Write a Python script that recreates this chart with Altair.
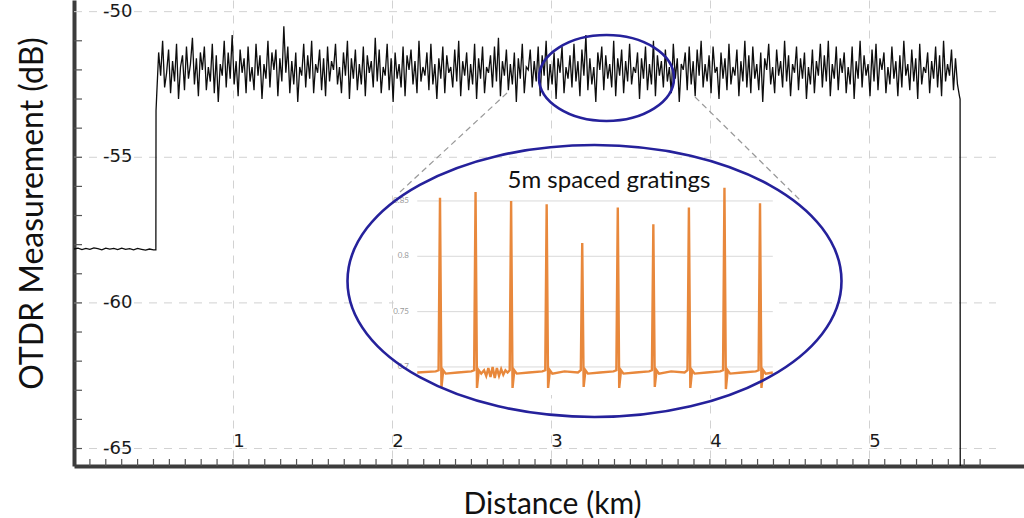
import altair as alt
import pandas as pd

# ---------------- main OTDR trace ----------------
flat_km = [0.0, 0.025, 0.05, 0.075, 0.1, 0.125, 0.15, 0.175, 0.2, 0.225, 0.25,
           0.275, 0.3, 0.325, 0.35, 0.375, 0.4, 0.425, 0.45, 0.475, 0.5]
flat_db = [-58.15, -58.12, -58.17, -58.13, -58.16, -58.11, -58.14, -58.18, -58.12, -58.15, -58.13,
           -58.17, -58.12, -58.16, -58.14, -58.18, -58.13, -58.16, -58.19, -58.15, -58.18]
rise_km = [0.515, 0.516]
rise_db = [-58.18, -53.4]
noise_start_km = 0.52
noise_step_km = 0.0125
noise_db = [
    -52.9, -51.4, -52.2, -51.0, -52.6, -52.1, -51.3, -52.8, -51.7, -52.4, -51.1, -53.0, -51.9, -51.5, -52.7,
    -51.2, -52.3, -51.8, -50.9, -52.5, -51.6, -52.9, -51.4, -52.0, -51.2, -52.7, -51.9, -52.4, -51.1, -52.8,
    -51.5, -53.1, -51.8, -52.2, -51.0, -52.6, -51.4, -52.3, -50.8, -52.5, -51.7, -52.9, -51.3, -52.1, -51.6,
    -52.8, -51.2, -52.4, -51.9, -52.7, -51.1, -52.2, -51.5, -53.0, -51.8, -52.3, -51.0, -52.6, -51.4, -52.0,
    -51.3, -52.9, -51.6, -52.4, -50.5, -52.1, -51.2, -52.8, -51.7, -52.5, -51.4, -53.1, -51.9, -52.2, -51.1,
    -52.6, -51.5, -52.3, -51.0, -52.8, -51.8, -52.1, -51.3, -52.7, -51.6, -52.9, -51.2, -52.4, -51.7, -52.0,
    -51.1, -52.5, -51.9, -52.8, -51.4, -52.2, -51.0, -53.0, -51.6, -52.3, -51.3, -52.7, -51.8, -52.5, -51.2,
    -52.9, -51.5, -52.1, -51.7, -52.6, -50.9, -52.4, -51.3, -52.8, -51.9, -52.2, -51.1, -52.7, -51.6, -53.1,
    -51.4, -52.3, -51.8, -52.6, -51.2, -52.9, -51.5, -52.0, -51.3, -52.5, -51.7, -52.8, -51.0, -52.4, -51.9,
    -52.2, -51.4, -52.7, -51.1, -52.5, -51.8, -53.0, -51.6, -52.3, -51.2, -52.8, -51.5, -52.1, -51.9, -52.6,
    -51.3, -52.4, -51.0, -52.9, -51.7, -52.2, -51.4, -52.7, -51.8, -52.5, -51.1, -53.0, -51.6, -52.3, -51.2,
    -52.8, -51.9, -52.1, -51.5, -52.6, -51.2, -52.4, -50.9, -52.9, -51.7, -52.2, -51.3, -52.7, -51.8, -52.5,
    -51.4, -53.1, -51.6, -52.3, -51.1, -52.8, -51.9, -52.0, -51.3, -52.6, -51.7, -52.4, -51.2, -52.9, -51.5,
    -52.2, -51.0, -52.7, -51.8, -52.5, -51.4, -53.0, -51.6, -52.1, -51.2, -52.8, -51.9, -52.3, -51.5, -52.6,
    -51.1, -52.4, -51.7, -52.9, -51.3, -52.2, -50.8, -52.7, -51.6, -52.5, -51.9, -53.1, -51.4, -52.0, -51.2,
    -52.7, -51.5, -52.3, -51.8, -52.6, -51.0, -52.9, -51.6, -52.2, -51.3, -52.8, -51.7, -52.4, -51.1, -52.5,
    -51.9, -52.1, -51.4, -53.0, -51.6, -52.3, -51.2, -52.7, -51.8, -52.5, -51.0, -52.9, -51.5, -52.2, -51.7,
    -52.6, -51.3, -52.4, -51.9, -52.8, -51.1, -52.3, -51.6, -53.1, -51.8, -52.0, -51.4, -52.7, -51.2, -52.5,
    -51.7, -52.9, -51.3, -52.2, -51.0, -52.6, -51.8, -52.4, -51.5, -52.8, -51.2, -52.1, -51.9, -53.0, -51.4,
    -52.3, -51.6, -52.7, -51.1, -52.5, -51.9, -52.2, -51.3, -52.9, -51.7, -52.4, -51.0, -52.6, -51.5, -52.8,
    -51.2, -52.3, -51.8, -52.7, -51.4, -53.1, -51.6, -52.0, -51.1, -52.5, -51.9, -52.8, -51.3, -52.2, -51.7,
    -52.6, -51.0, -52.4, -51.5, -52.9, -51.8, -52.1, -51.2, -52.7, -51.6, -52.3, -51.4, -53.0, -51.9, -52.5,
    -51.3, -52.8, -51.7, -52.2, -51.1, -52.6, -51.5, -52.4, -51.0, -52.9, -51.8, -52.3, -51.2, -52.7, -51.6,
    -52.1, -51.4, -52.8, -51.9, -52.5, -51.2, -53.0, -51.7, -52.3, -51.0, -52.6, -51.5, -52.2, -51.8, -52.9,
    -51.3, -52.4, -51.1, -52.7, -51.6, -52.0, -51.4, -52.8, -51.9, -52.5, -51.2, -52.3, -51.7, -52.9, -51.5,
    -52.6, -51.0, -52.2, -51.8, -52.7, -51.3, -52.4, -51.6, -53.0, -51.1, -52.5, -51.9, -52.1, -51.4, -52.8,
    -51.7, -52.3, -51.2, -52.6, -51.5, -52.9, -51.0, -52.4, -51.8, -52.2, -51.3, -52.7, -51.6, -52.5, -52.9,
]
fall_db = [-53.0, -67.0]

# axis annotations
y_tick_values = [-50, -55, -60, -65]
y_tick_labels = ["-50", "-55", "-60", "-65"]
x_tick_values = [1, 2, 3, 4, 5]
x_tick_labels = ["1", "2", "3", "4", "5"]
minor_y = list(range(-65, -50))
minor_x = [round(0.1 * i, 1) for i in range(1, 58)]

# ---------------- inset: 5 m spaced gratings ----------------
inset_m = [1.8, 4.4, 4.8, 5.0, 5.2, 5.45, 5.8, 7.5,
           9.4, 9.8, 10.0, 10.2, 10.45, 10.8, 11.2, 11.5, 11.8, 12.1, 12.4, 12.7, 13.0, 13.3, 13.6, 13.9, 14.2, 14.5,
           14.8, 15.0, 15.2, 15.45, 15.8, 17.5,
           19.4, 19.8, 20.0, 20.2, 20.45, 20.8, 22.5,
           24.4, 24.8, 25.0, 25.2, 25.45, 25.8, 27.5,
           29.4, 29.8, 30.0, 30.2, 30.45, 30.8, 32.5,
           34.4, 34.8, 35.0, 35.2, 35.45, 35.8, 37.5,
           39.4, 39.8, 40.0, 40.2, 40.45, 40.8, 42.5,
           44.4, 44.8, 45.0, 45.2, 45.45, 45.8, 47.5,
           49.4, 49.8, 50.0, 50.2, 50.45, 50.8, 51.8]
inset_val = [0.695, 0.696, 0.697, 0.853, 0.681, 0.697, 0.694, 0.695,
             0.696, 0.697, 0.858, 0.681, 0.697, 0.694, 0.697, 0.692, 0.699, 0.691, 0.700, 0.690, 0.699, 0.692, 0.698, 0.693, 0.697, 0.695,
             0.697, 0.850, 0.681, 0.697, 0.694, 0.695,
             0.696, 0.697, 0.847, 0.681, 0.697, 0.694, 0.696,
             0.695, 0.697, 0.812, 0.682, 0.697, 0.694, 0.695,
             0.696, 0.697, 0.844, 0.681, 0.697, 0.694, 0.695,
             0.696, 0.697, 0.829, 0.682, 0.697, 0.694, 0.696,
             0.695, 0.697, 0.844, 0.681, 0.697, 0.694, 0.695,
             0.696, 0.697, 0.862, 0.680, 0.697, 0.694, 0.695,
             0.696, 0.697, 0.848, 0.681, 0.697, 0.694, 0.695]
inset_grid = [0.7, 0.75, 0.8, 0.85]
inset_grid_labels = ["0.7", "0.75", "0.8", "0.85"]
inset_grid_extent_m = [1.8, 51.8]
inset_panel_m = [-1.5, 52.4]
inset_panel_val = [0.6747, 0.8825]

# ---------------- annotation geometry (data units) ----------------
zoom_ellipse = {"km": 3.3497, "db": -52.278}
inset_ellipse = {"km": 3.2742, "db": -59.248}
connectors = {"x0": [2.7238, 3.9064], "y0": [-52.793, -52.930],
              "x1": [2.0507, 4.5669], "y1": [-56.192, -56.467]}
inset_title = "5m spaced gratings"
inset_title_pos = {"km": 3.365, "db": -55.815}

# ---------------- build tables ----------------
noise_km = [round(noise_start_km + i * noise_step_km, 5) for i in range(len(noise_db))]
last = noise_km[-1]
trace = pd.DataFrame({
    "km": flat_km + rise_km + noise_km + [last + 0.004, last + 0.005],
    "db": flat_db + rise_db + noise_db + fall_db,
})
trace["order"] = range(len(trace))

X_MAIN = alt.Scale(domain=[0, 5.976], nice=False, zero=False)
Y_MAIN = alt.Scale(domain=[-65.6, -49.6], nice=False, zero=False)
X_INSET = alt.Scale(domain=[-46.466, 87.121], nice=False, zero=False)
Y_INSET = alt.Scale(domain=[0.6105, 1.0316], nice=False, zero=False)

TITLE_FONT = "Lato"
LABEL_FONT = "DejaVu Sans"

trace_layer = alt.Chart(trace).mark_line(color="#0d0d0d", strokeWidth=1.3, clip=True).encode(
    x=alt.X("km:Q", scale=X_MAIN, axis=alt.Axis(
        values=x_tick_values, grid=True, gridDash=[8, 7], gridColor="#d2d2d2", gridWidth=1,
        ticks=False, labels=False, domainColor="#3c3c3c", domainWidth=4,
        title="Distance (km)", titleFont=TITLE_FONT, titleFontSize=30, titleFontWeight="normal",
        titleColor="#111", titleX=478, titleY=47, titleBaseline="alphabetic", titleAlign="center")),
    y=alt.Y("db:Q", scale=Y_MAIN, axis=alt.Axis(
        grid=False, ticks=False, labels=False, domainColor="#3c3c3c", domainWidth=4,
        title="OTDR Measurement (dB)", titleFont=TITLE_FONT, titleFontSize=32, titleFontWeight="normal",
        titleColor="#111", titleX=-42, titleY=213, titleAngle=270, titleBaseline="middle", titleAlign="center")),
    order="order:Q",
)

hgrid = alt.Chart(pd.DataFrame({"db": y_tick_values, "x0": 0.0, "x1": 5.8})).mark_rule(
    color="#d2d2d2", strokeWidth=1, strokeDash=[8, 7]).encode(
    y=alt.Y("db:Q", scale=Y_MAIN, axis=None),
    x=alt.X("x0:Q", scale=X_MAIN, axis=None), x2="x1:Q")

yticks = alt.Chart(pd.DataFrame({"db": minor_y})).mark_rule(color="#555", strokeWidth=1.2).encode(
    y=alt.Y("db:Q", scale=Y_MAIN, axis=None), x=alt.value(0), x2=alt.value(8))
xticks = alt.Chart(pd.DataFrame({"km": minor_x})).mark_rule(color="#555", strokeWidth=1.2).encode(
    x=alt.X("km:Q", scale=X_MAIN, axis=None), y=alt.value(459), y2=alt.value(466))

ylabels = alt.Chart(pd.DataFrame({"db": y_tick_values, "t": y_tick_labels})).mark_text(
    align="left", baseline="middle", font=LABEL_FONT, fontSize=18, color="#1a1a1a").encode(
    y=alt.Y("db:Q", scale=Y_MAIN, axis=None), x=alt.value(29), text="t:N")
xlabels = alt.Chart(pd.DataFrame({"km": x_tick_values, "t": x_tick_labels})).mark_text(
    align="center", baseline="middle", font=LABEL_FONT, fontSize=18, color="#1a1a1a", dx=6).encode(
    x=alt.X("km:Q", scale=X_MAIN, axis=None), y=alt.value(442), text="t:N")

# ---- inset layers ----
panel = alt.Chart(pd.DataFrame({"m0": [inset_panel_m[0]], "m1": [inset_panel_m[1]],
                                "v0": [inset_panel_val[0]], "v1": [inset_panel_val[1]]})).mark_rect(
    color="white").encode(
    x=alt.X("m0:Q", scale=X_INSET, axis=None), x2="m1:Q",
    y=alt.Y("v0:Q", scale=Y_INSET, axis=None), y2="v1:Q")
igrid = alt.Chart(pd.DataFrame({"v": inset_grid, "m0": inset_grid_extent_m[0], "m1": inset_grid_extent_m[1]})).mark_rule(
    color="#d9d9d9", strokeWidth=1).encode(
    y=alt.Y("v:Q", scale=Y_INSET, axis=None),
    x=alt.X("m0:Q", scale=X_INSET, axis=None), x2="m1:Q")
ilabels = alt.Chart(pd.DataFrame({"v": inset_grid, "t": inset_grid_labels, "m": 0.64})).mark_text(
    align="right", baseline="middle", font=TITLE_FONT, fontSize=8, color="#9a9a9a").encode(
    y=alt.Y("v:Q", scale=Y_INSET, axis=None),
    x=alt.X("m:Q", scale=X_INSET, axis=None), text="t:N")
ins = pd.DataFrame({"m": inset_m, "v": inset_val})
ins["order"] = range(len(ins))
iline = alt.Chart(ins).mark_line(color="#e8883c", strokeWidth=2.4).encode(
    x=alt.X("m:Q", scale=X_INSET, axis=None),
    y=alt.Y("v:Q", scale=Y_INSET, axis=None), order="order:Q")

# ---- annotations over everything ----
conn = alt.Chart(pd.DataFrame(connectors)).mark_rule(color="#999", strokeWidth=1.2, strokeDash=[6, 4]).encode(
    x=alt.X("x0:Q", scale=X_MAIN, axis=None), x2="x1:Q",
    y=alt.Y("y0:Q", scale=Y_MAIN, axis=None), y2="y1:Q")
ELL_BIG = "M -1 0 A 1 0.5506 0 1 0 1 0 A 1 0.5506 0 1 0 -1 0 Z"
ELL_SMALL = "M -1 0 A 1 0.637 0 1 0 1 0 A 1 0.637 0 1 0 -1 0 Z"
big = alt.Chart(pd.DataFrame([inset_ellipse])).mark_point(
    shape=ELL_BIG, size=494 * 494, filled=False, color="#25219b", strokeWidth=2.6, opacity=1).encode(
    x=alt.X("km:Q", scale=X_MAIN, axis=None), y=alt.Y("db:Q", scale=Y_MAIN, axis=None))
small = alt.Chart(pd.DataFrame([zoom_ellipse])).mark_point(
    shape=ELL_SMALL, size=135 * 135, filled=False, color="#25219b", strokeWidth=2.6, opacity=1).encode(
    x=alt.X("km:Q", scale=X_MAIN, axis=None), y=alt.Y("db:Q", scale=Y_MAIN, axis=None))
ttl = alt.Chart(pd.DataFrame([{**inset_title_pos, "t": inset_title}])).mark_text(
    align="center", baseline="middle", font=TITLE_FONT, fontSize=24, color="#111").encode(
    x=alt.X("km:Q", scale=X_MAIN, axis=None), y=alt.Y("db:Q", scale=Y_MAIN, axis=None), text="t:N")

chart = alt.layer(
    hgrid, trace_layer, yticks, xticks, ylabels, xlabels,
    panel, igrid, ilabels, iline,
    conn, big, small, ttl,
).resolve_scale(
    x="independent", y="independent"
).properties(
    width=950, height=466,
    autosize=alt.AutoSizeParams(type="none"),
    padding={"left": 74, "top": 0, "right": 0, "bottom": 52},
    background="white",
).configure_view(stroke=None)

chart.save("out.html", embed_options={"renderer": "svg", "actions": False})
